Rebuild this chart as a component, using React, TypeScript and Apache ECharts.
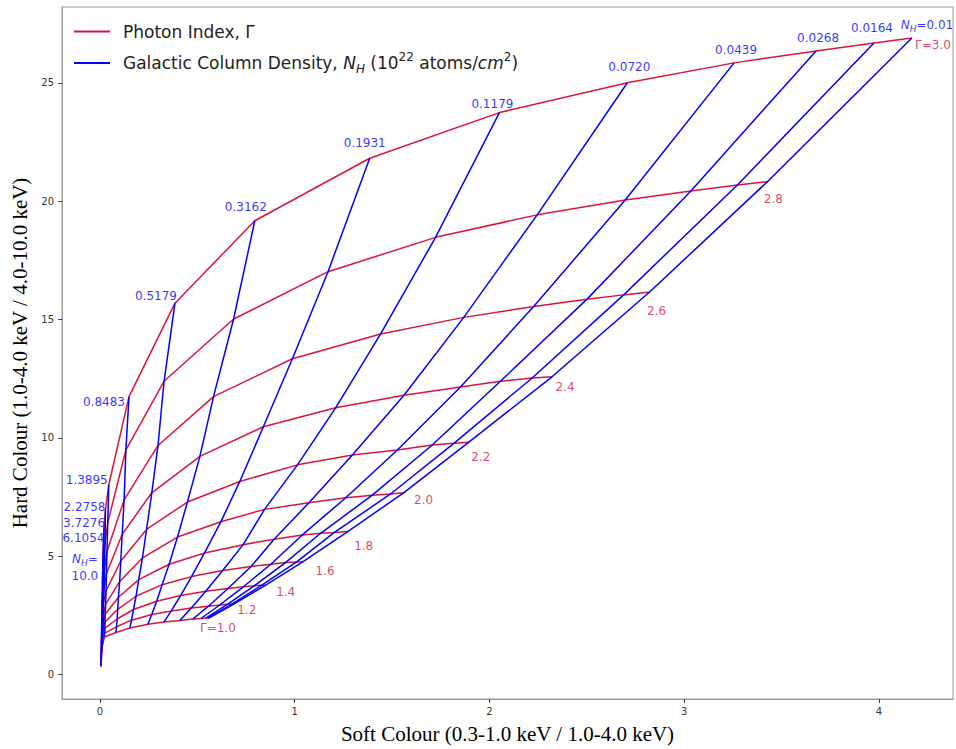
import React, { useEffect, useRef } from 'react';
import * as echarts from 'echarts';

// Photon index values (one red curve each) and their labels
const gammaLabels = ['Γ=1.0', '1.2', '1.4', '1.6', '1.8', '2.0', '2.2', '2.4', '2.6', '2.8', 'Γ=3.0'];
// Galactic column density values (one blue line each), 10^22 atoms/cm^2
const nhLabels = ['0.01', '0.0164', '0.0268', '0.0439', '0.0720', '0.1179', '0.1931', '0.3162', '0.5179', '0.8483', '1.3895', '2.2758', '3.7276', '6.1054', '10.0'];

// Soft colour, rows = photon index (1.0 .. 3.0), columns = N_H (0.01 .. 10.0)
const softColour: number[][] = [
  [0.559, 0.554, 0.544, 0.518, 0.477, 0.410, 0.328, 0.246, 0.154, 0.082, 0.023, 0.013, 0.009, 0.007, 0.005],
  [0.687, 0.677, 0.654, 0.615, 0.557, 0.469, 0.366, 0.266, 0.162, 0.085, 0.024, 0.013, 0.009, 0.007, 0.005],
  [0.851, 0.831, 0.792, 0.736, 0.657, 0.543, 0.414, 0.291, 0.172, 0.088, 0.025, 0.014, 0.010, 0.007, 0.005],
  [1.043, 1.010, 0.954, 0.877, 0.776, 0.630, 0.470, 0.319, 0.185, 0.091, 0.026, 0.015, 0.010, 0.008, 0.006],
  [1.272, 1.202, 1.133, 1.039, 0.894, 0.735, 0.537, 0.355, 0.199, 0.095, 0.027, 0.016, 0.011, 0.008, 0.006],
  [1.559, 1.492, 1.398, 1.262, 1.073, 0.845, 0.621, 0.398, 0.218, 0.101, 0.029, 0.017, 0.011, 0.009, 0.007],
  [1.894, 1.817, 1.706, 1.527, 1.296, 1.014, 0.718, 0.449, 0.239, 0.107, 0.031, 0.018, 0.012, 0.010, 0.008],
  [2.321, 2.219, 2.056, 1.851, 1.561, 1.210, 0.839, 0.513, 0.266, 0.114, 0.033, 0.021, 0.014, 0.011, 0.009],
  [2.822, 2.689, 2.501, 2.227, 1.868, 1.441, 0.988, 0.583, 0.298, 0.124, 0.036, 0.023, 0.015, 0.013, 0.011],
  [3.427, 3.273, 3.034, 2.697, 2.245, 1.723, 1.171, 0.686, 0.329, 0.133, 0.040, 0.026, 0.018, 0.014, 0.013],
  [4.169, 3.974, 3.677, 3.256, 2.708, 2.051, 1.385, 0.795, 0.385, 0.149, 0.045, 0.028, 0.021, 0.018, 0.015],
];

// Hard colour, same layout
const hardColour: number[][] = [
  [2.39, 2.39, 2.39, 2.37, 2.35, 2.29, 2.22, 2.13, 1.97, 1.78, 1.59, 1.26, 0.92, 0.63, 0.34],
  [2.98, 2.98, 2.97, 2.94, 2.89, 2.81, 2.69, 2.54, 2.30, 2.02, 1.75, 1.40, 1.05, 0.75, 0.44],
  [3.78, 3.78, 3.75, 3.71, 3.64, 3.52, 3.34, 3.10, 2.75, 2.35, 1.96, 1.59, 1.22, 0.91, 0.59],
  [4.77, 4.76, 4.74, 4.66, 4.57, 4.40, 4.14, 3.80, 3.31, 2.76, 2.22, 1.82, 1.44, 1.12, 0.78],
  [6.04, 6.00, 5.97, 5.90, 5.72, 5.49, 5.14, 4.66, 4.01, 3.27, 2.55, 2.11, 1.72, 1.37, 1.01],
  [7.68, 7.63, 7.58, 7.47, 7.26, 6.98, 6.46, 5.81, 4.93, 3.93, 2.98, 2.49, 2.07, 1.70, 1.33],
  [9.82, 9.77, 9.70, 9.49, 9.28, 8.86, 8.16, 7.29, 6.13, 4.80, 3.54, 2.99, 2.54, 2.13, 1.73],
  [12.58, 12.53, 12.39, 12.15, 11.80, 11.27, 10.47, 9.22, 7.68, 5.93, 4.26, 3.63, 3.14, 2.69, 2.26],
  [16.16, 16.04, 15.86, 15.55, 15.09, 14.39, 13.34, 11.74, 9.68, 7.38, 5.20, 4.46, 3.92, 3.41, 2.93],
  [20.82, 20.68, 20.43, 20.05, 19.42, 18.47, 17.02, 15.02, 12.39, 9.49, 6.42, 5.55, 4.93, 4.35, 3.80],
  [26.89, 26.68, 26.34, 25.84, 25.00, 23.74, 21.81, 19.17, 15.69, 11.74, 8.01, 6.96, 6.25, 5.58, 4.95],
];

const xTicks = [0, 1, 2, 3, 4];
const yTicks = [0, 5, 10, 15, 20, 25];

// label placement (pixel offsets from the anchor point) — styling only
const nhLabelOffsets: number[][] = [
  [15, -13], [-2, -15], [2, -13], [2, -13], [2, -16], [-7, -9], [-5, -15], [-9, -14],
  [-19, -7], [-25, 5], [-22, -5], [-21, -3], [-20, -4], [-20, -5], [-18, 10],
];
const gammaLabelOffsets: number[][] = [
  [9, 10], [13, 6], [20, 7], [22, 9], [16, 14], [20, 7], [12, 15], [13, 10], [7, 19], [6, 17], [21, 7],
];

const RED = '#dc143c';
const BLUE = '#0000ff';
const SANS = 'DejaVu Sans';
const GAMMA_NAME = 'Photon Index, Γ';
const NH_NAME = 'Galactic Column Density';

export default function App() {
  const ref = useRef<HTMLDivElement>(null);

  useEffect(() => {
    if (!ref.current) return;
    const chart = echarts.init(ref.current, undefined, { renderer: 'svg' });

    const gammaSeries = gammaLabels.map((g, i) => ({
      type: 'line',
      name: GAMMA_NAME,
      data: nhLabels.map((_, k) => [softColour[i][k], hardColour[i][k]]),
      symbol: 'none',
      silent: true,
      lineStyle: { color: RED, width: 1.5 },
      itemStyle: { color: RED },
      z: 2,
    }));

    const nhSeries = nhLabels.map((n, k) => ({
      type: 'line',
      name: NH_NAME,
      data: gammaLabels.map((_, i) => [softColour[i][k], hardColour[i][k]]),
      symbol: 'none',
      silent: true,
      lineStyle: { color: BLUE, width: 1.5 },
      itemStyle: { color: BLUE },
      z: 3,
    }));

    const blueRich = {
      t: { fontFamily: SANS, fontSize: 12, color: BLUE, lineHeight: 17 },
      i: { fontFamily: SANS, fontSize: 12, color: BLUE, fontStyle: 'italic', lineHeight: 17 },
      s: { fontFamily: SANS, fontSize: 9, color: BLUE, fontStyle: 'italic', verticalAlign: 'bottom', lineHeight: 17 },
    };

    const nhText = (k: number) => {
      if (k === 0) return `{i|N}{s|H}{t|=${nhLabels[k]}}`;
      if (k === nhLabels.length - 1) return `{i|N}{s|H}{t|=}\n{t|${nhLabels[k]}}`;
      return `{t|${nhLabels[k]}}`;
    };

    const nhLabelSeries = {
      type: 'scatter',
      name: 'nh-labels',
      silent: true,
      symbolSize: 0,
      itemStyle: { color: 'rgba(0,0,0,0)' },
      z: 5,
      data: nhLabels.map((_, k) => ({
        value: [softColour[gammaLabels.length - 1][k], hardColour[gammaLabels.length - 1][k]],
        label: {
          show: true,
          position: 'inside',
          offset: nhLabelOffsets[k],
          formatter: nhText(k),
          rich: blueRich,
          align: 'center',
          verticalAlign: 'middle',
        },
      })),
    };

    const gammaLabelSeries = {
      type: 'scatter',
      name: 'gamma-labels',
      silent: true,
      symbolSize: 0,
      itemStyle: { color: 'rgba(0,0,0,0)' },
      z: 5,
      data: gammaLabels.map((g, i) => ({
        value: [softColour[i][0], hardColour[i][0]],
        label: {
          show: true,
          position: 'inside',
          offset: gammaLabelOffsets[i],
          formatter: g,
          color: RED,
          fontFamily: SANS,
          fontSize: 12,
          align: 'center',
          verticalAlign: 'middle',
        },
      })),
    };

    const axisCommon = {
      type: 'value',
      splitLine: { show: false },
      axisLine: { show: true, onZero: false, lineStyle: { color: '#999', width: 1 } },
      axisTick: { show: true, length: 4, lineStyle: { color: '#444' } },
      axisLabel: { fontFamily: SANS, fontSize: 10, color: '#333' },
      nameLocation: 'middle',
      nameTextStyle: { fontFamily: 'Liberation Serif', fontSize: 21, color: '#000' },
    };

    chart.setOption({
      animation: false,
      backgroundColor: '#fff',
      grid: {
        left: 62, right: 3, top: 7, bottom: 46,
        show: true, borderColor: '#999', borderWidth: 1, backgroundColor: '#fff',
      },
      legend: {
        data: [
          { name: GAMMA_NAME, icon: 'rect' },
          { name: NH_NAME, icon: 'rect' },
        ],
        orient: 'vertical',
        left: 74,
        top: 23,
        padding: 0,
        itemWidth: 36,
        itemHeight: 2,
        itemGap: 11,
        selectedMode: false,
        textStyle: {
          fontFamily: SANS,
          fontSize: 17,
          color: '#222',
          padding: [0, 0, 0, 8],
          rich: {
            t: { fontFamily: SANS, fontSize: 17, color: '#222', lineHeight: 24 },
            i: { fontFamily: SANS, fontSize: 17, color: '#222', fontStyle: 'italic', lineHeight: 24 },
            s: { fontFamily: SANS, fontSize: 12, color: '#222', fontStyle: 'italic', verticalAlign: 'bottom', lineHeight: 24 },
            p: { fontFamily: SANS, fontSize: 12, color: '#222', verticalAlign: 'top', lineHeight: 24 },
          },
        },
        formatter: (name: string) =>
          name === GAMMA_NAME
            ? `{t|${GAMMA_NAME}}`
            : '{t|Galactic Column Density, }{i|N}{s|H}{t| (10}{p|22}{t| atoms/}{i|cm}{p|2}{t|)}',
      },
      xAxis: {
        ...axisCommon,
        min: -0.195,
        max: 4.38,
        axisTick: { ...axisCommon.axisTick, customValues: xTicks },
        axisLabel: { ...axisCommon.axisLabel, customValues: xTicks, margin: 7 },
        name: 'Soft Colour (0.3-1.0 keV / 1.0-4.0 keV)',
        nameGap: 24,
      },
      yAxis: {
        ...axisCommon,
        min: -1.03,
        max: 28.2,
        axisTick: { ...axisCommon.axisTick, customValues: yTicks },
        axisLabel: { ...axisCommon.axisLabel, customValues: yTicks, margin: 8 },
        name: 'Hard Colour (1.0-4.0 keV / 4.0-10.0 keV)',
        nameGap: 30,
      },
      series: [...gammaSeries, ...nhSeries, nhLabelSeries, gammaLabelSeries],
    });

    return () => chart.dispose();
  }, []);

  return (
    <div
      ref={ref}
      style={{ position: 'fixed', left: 0, top: 0, width: 956, height: 749, background: '#fff' }}
    />
  );
}
